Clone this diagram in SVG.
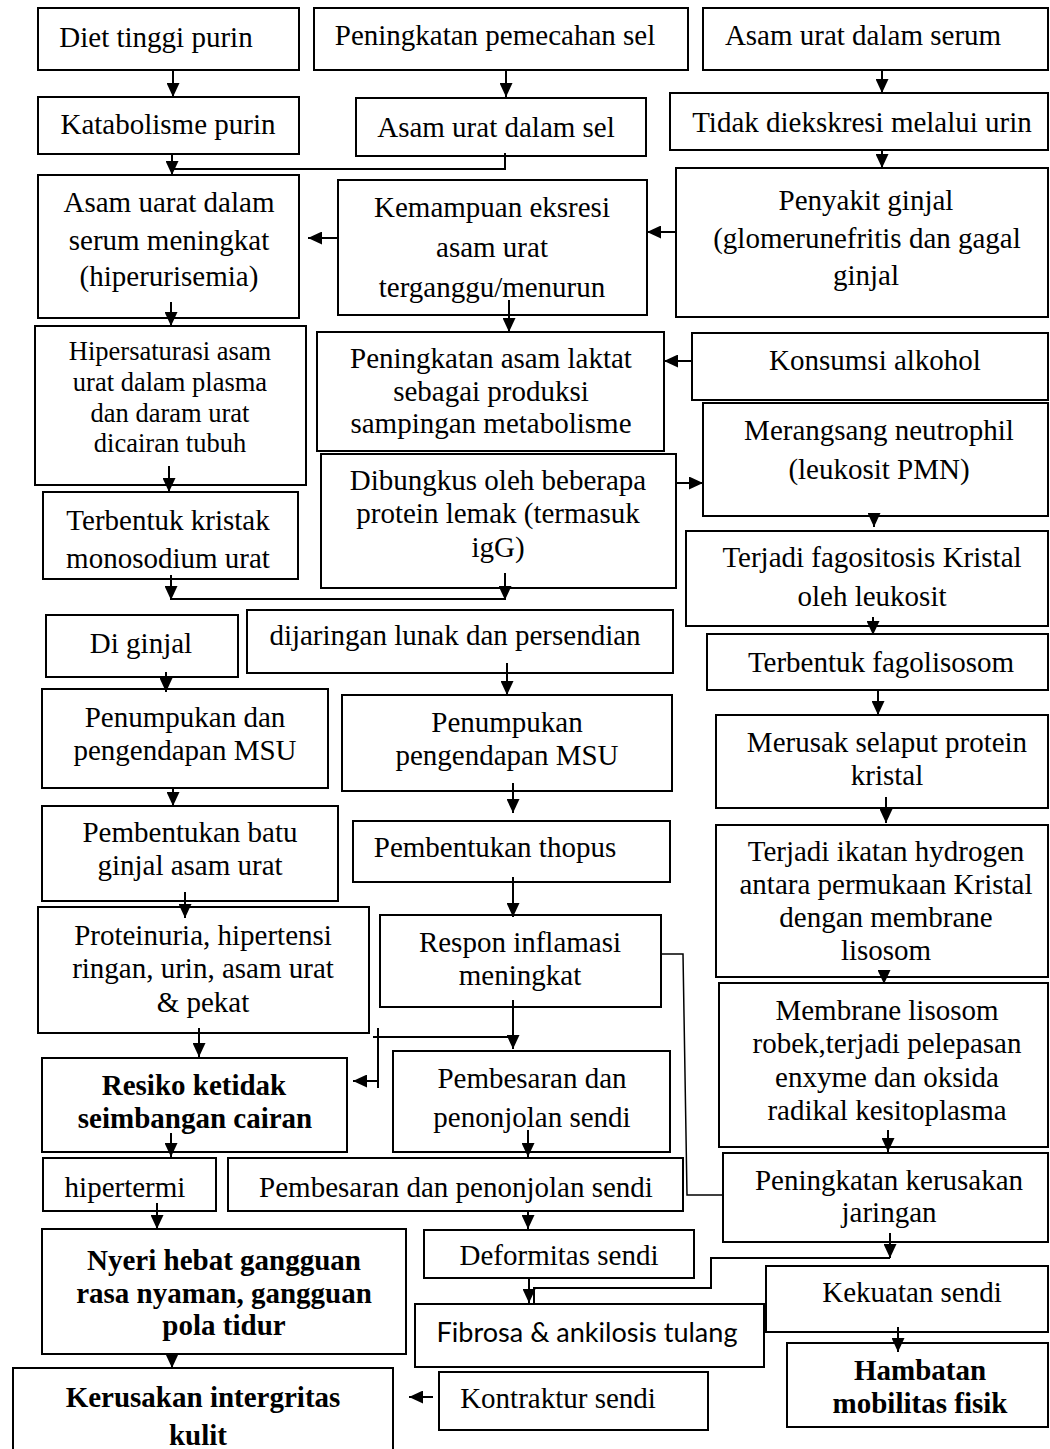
<svg xmlns="http://www.w3.org/2000/svg" width="1050" height="1449" viewBox="0 0 1050 1449">
<style>
rect{fill:#fff;stroke:#000;stroke-width:2}
text{font-family:"Liberation Serif","Times New Roman",serif;font-size:29px;fill:#000;text-anchor:middle}
.b{font-weight:bold}
.s{font-size:26.5px}
.sans{font-family:Lato,"Liberation Sans",sans-serif;font-size:27px}
.c path{fill:none;stroke:#000;stroke-width:2}
.c path.a{marker-end:url(#ah)}
.c path.t{stroke-width:1.5}
</style>
<defs>
<marker id="ah" markerUnits="userSpaceOnUse" markerWidth="14" markerHeight="13" viewBox="0 0 14 13" refX="14" refY="6.5" orient="auto"><path d="M0,0 L14,6.5 L0,13 z" fill="#000"/></marker>
</defs>
<g id="n1"><rect x="38" y="8" width="261" height="62"/><text x="156" y="47">Diet tinggi purin</text></g>
<g id="n2"><rect x="314" y="8" width="374" height="62"/><text x="495" y="45">Peningkatan pemecahan sel</text></g>
<g id="n3"><rect x="703" y="8" width="345" height="62"/><text x="863" y="45">Asam urat dalam serum</text></g>
<g id="n4"><rect x="38" y="97" width="261" height="57"/><text x="168" y="134">Katabolisme purin</text></g>
<g id="n5"><rect x="356" y="98" width="290" height="58"/><text x="496" y="137">Asam urat dalam sel</text></g>
<g id="n6"><rect x="670" y="93" width="378" height="57"/><text x="862" y="132">Tidak diekskresi melalui urin</text></g>
<g id="n7"><rect x="38" y="175" width="261" height="143"/><text x="169" y="212">Asam uarat dalam</text><text x="169" y="250">serum meningkat</text><text x="169" y="286">(hiperurisemia)</text></g>
<g id="n8"><rect x="338" y="180" width="309" height="135"/><text x="492" y="217">Kemampuan eksresi</text><text x="492" y="257">asam urat</text><text x="492" y="297">terganggu/menurun</text></g>
<g id="n9"><rect x="676" y="168" width="372" height="149"/><text x="866" y="210">Penyakit ginjal</text><text x="867" y="248">(glomerunefritis dan gagal</text><text x="866" y="285">ginjal</text></g>
<g id="n10"><rect x="35" y="326" width="271" height="159"/><text class="s" x="170" y="360">Hipersaturasi asam</text><text class="s" x="170" y="391">urat dalam plasma</text><text class="s" x="170" y="422">dan daram urat</text><text class="s" x="170" y="452">dicairan tubuh</text></g>
<g id="n11"><rect x="317" y="332" width="347" height="119"/><text x="491" y="368">Peningkatan asam laktat</text><text x="491" y="401">sebagai produksi</text><text x="491" y="433">sampingan metabolisme</text></g>
<g id="n12"><rect x="692" y="333" width="356" height="67"/><text x="875" y="370">Konsumsi alkohol</text></g>
<g id="n13"><rect x="321" y="454" width="355" height="134"/><text x="498" y="490">Dibungkus oleh beberapa</text><text x="498" y="523">protein lemak (termasuk</text><text x="498" y="557">igG)</text></g>
<g id="n14"><rect x="703" y="403" width="345" height="113"/><text x="879" y="440">Merangsang neutrophil</text><text x="879" y="479">(leukosit PMN)</text></g>
<g id="n15"><rect x="43" y="492" width="255" height="87"/><text x="168" y="530">Terbentuk kristak</text><text x="168" y="568">monosodium urat</text></g>
<g id="n16"><rect x="686" y="531" width="362" height="95"/><text x="872" y="567">Terjadi fagositosis Kristal</text><text x="872" y="606">oleh leukosit</text></g>
<g id="n17"><rect x="707" y="634" width="341" height="56"/><text x="881" y="672">Terbentuk fagolisosom</text></g>
<g id="n18"><rect x="46" y="615" width="192" height="62"/><text x="141" y="653">Di ginjal</text></g>
<g id="n19"><rect x="247" y="610" width="426" height="63"/><text x="455" y="645">dijaringan lunak dan persendian</text></g>
<g id="n20"><rect x="42" y="689" width="286" height="99"/><text x="185" y="727">Penumpukan dan</text><text x="185" y="760">pengendapan MSU</text></g>
<g id="n21"><rect x="342" y="695" width="330" height="96"/><text x="507" y="732">Penumpukan</text><text x="507" y="765">pengendapan MSU</text></g>
<g id="n22"><rect x="716" y="715" width="332" height="93"/><text x="887" y="752">Merusak selaput protein</text><text x="887" y="785">kristal</text></g>
<g id="n23"><rect x="42" y="806" width="296" height="95"/><text x="190" y="842">Pembentukan batu</text><text x="190" y="875">ginjal asam urat</text></g>
<g id="n24"><rect x="353" y="821" width="317" height="61"/><text x="495" y="857">Pembentukan thopus</text></g>
<g id="n25"><rect x="716" y="825" width="332" height="152"/><text x="886" y="861">Terjadi ikatan hydrogen</text><text x="886" y="894">antara permukaan Kristal</text><text x="886" y="927">dengan membrane</text><text x="886" y="960">lisosom</text></g>
<g id="n26"><rect x="38" y="907" width="331" height="126"/><text x="203" y="945">Proteinuria, hipertensi</text><text x="203" y="978">ringan, urin, asam urat</text><text x="203" y="1012">&amp; pekat</text></g>
<g id="n27"><rect x="380" y="915" width="281" height="92"/><text x="520" y="952">Respon inflamasi</text><text x="520" y="985">meningkat</text></g>
<g id="n28"><rect x="719" y="983" width="329" height="164"/><text x="887" y="1020">Membrane lisosom</text><text x="887" y="1053">robek,terjadi pelepasan</text><text x="887" y="1087">enxyme dan oksida</text><text x="887" y="1120">radikal kesitoplasma</text></g>
<g id="n29"><rect x="42" y="1058" width="305" height="94"/><text class="b" x="194" y="1095">Resiko ketidak</text><text class="b" x="195" y="1128">seimbangan cairan</text></g>
<g id="n30"><rect x="393" y="1051" width="277" height="101"/><text x="532" y="1088">Pembesaran dan</text><text x="532" y="1127">penonjolan sendi</text></g>
<g id="n31"><rect x="723" y="1153" width="325" height="89"/><text x="889" y="1190">Peningkatan kerusakan</text><text x="889" y="1222">jaringan</text></g>
<g id="n32"><rect x="43" y="1158" width="173" height="53"/><text x="125" y="1197">hipertermi</text></g>
<g id="n33"><rect x="228" y="1158" width="455" height="53"/><text x="456" y="1197">Pembesaran dan penonjolan sendi</text></g>
<g id="n34"><rect x="42" y="1229" width="364" height="125"/><text class="b" x="224" y="1270">Nyeri hebat gangguan</text><text class="b" x="224" y="1303">rasa nyaman, gangguan</text><text class="b" x="224" y="1335">pola tidur</text></g>
<g id="n35"><rect x="424" y="1230" width="270" height="48"/><text x="559" y="1265">Deformitas sendi</text></g>
<g id="n36"><rect x="766" y="1266" width="282" height="66"/><text x="912" y="1302">Kekuatan sendi</text></g>
<g id="n37"><rect x="415" y="1304" width="349" height="63"/><text class="sans" x="587" y="1342" textLength="301" lengthAdjust="spacingAndGlyphs">Fibrosa &amp; ankilosis tulang</text></g>
<g id="n38"><rect x="787" y="1343" width="261" height="84"/><text class="b" x="920" y="1380">Hambatan</text><text class="b" x="920" y="1413">mobilitas fisik</text></g>
<g id="n39"><rect x="13" y="1368" width="380" height="100"/><text class="b" x="203" y="1407">Kerusakan intergritas</text><text class="b" x="198" y="1445">kulit</text></g>
<g id="n40"><rect x="439" y="1372" width="269" height="58"/><text x="558" y="1408">Kontraktur sendi</text></g>
<g id="connectors" class="c">
<path class="a" d="M173,70 V97"/>
<path class="a" d="M506,70 V97"/>
<path class="a" d="M882,70 V93"/>
<path class="a" d="M882,150 V168"/>
<path class="a" d="M172,154 V175"/>
<path d="M172,169 H505 V153"/>
<path class="a" d="M676,232 H647"/>
<path class="a" d="M338,238 H308"/>
<path class="a" d="M171,302 V326"/>
<path class="a" d="M509,300 V332"/>
<path class="a" d="M692,361 H664"/>
<path class="a" d="M676,483 H703"/>
<path class="a" d="M874,516 V527"/>
<path class="a" d="M169,466 V492"/>
<path class="a" d="M873,617 V635"/>
<path class="a" d="M878,690 V715"/>
<path class="a" d="M171,575 V600"/>
<path class="a" d="M505,573 V600"/>
<path d="M171,599 H505"/>
<path class="a" d="M166,672 V692"/>
<path class="a" d="M507,663 V695"/>
<path class="a" d="M173,788 V806"/>
<path class="a" d="M513,783 V813"/>
<path class="a" d="M886,797 V823"/>
<path class="a" d="M185,892 V918"/>
<path class="a" d="M513,877 V917"/>
<path class="a" d="M884,977 V984"/>
<path class="t" d="M661,954 H683 L687,1195 H722"/>
<path class="a" d="M199,1028 V1057"/>
<path class="a" d="M513,1000 V1049"/>
<path d="M373,1037 H513"/>
<path d="M378,1028 V1088"/>
<path class="a" d="M378,1081 H353"/>
<path class="a" d="M888,1130 V1152"/>
<path class="a" d="M171,1133 V1157"/>
<path class="a" d="M528,1130 V1157"/>
<path class="a" d="M157,1203 V1229"/>
<path class="a" d="M528,1211 V1229"/>
<path class="a" d="M529,1278 V1303"/>
<path class="a" d="M890,1233 V1258"/>
<path d="M890,1258 H711 V1288 H534 V1304"/>
<path class="a" d="M898,1327 V1352"/>
<path class="a" d="M172,1354 V1368"/>
<path class="a" d="M433,1397 H409"/>
</g>
</svg>
